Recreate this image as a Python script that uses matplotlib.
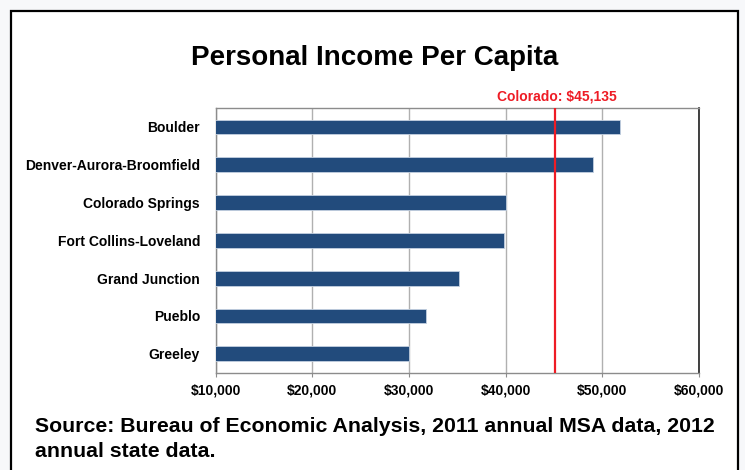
import matplotlib.pyplot as plt
from matplotlib import font_manager
from matplotlib.patches import Rectangle
from matplotlib.ticker import FuncFormatter
import matplotlib.transforms as mtransforms

plt.rcParams['font.family'] = ['Liberation Sans', 'DejaVu Sans']

# data
areas = ["Boulder", "Denver-Aurora-Broomfield", "Colorado Springs",
         "Fort Collins-Loveland", "Grand Junction", "Pueblo", "Greeley"]
income = [51870, 49000, 40050, 39800, 35130, 31720, 29970]
colorado_income = 45135
x_ticks = [10000, 20000, 30000, 40000, 50000, 60000]

title = "Personal Income Per Capita"
source_lines = ["Source: Bureau of Economic Analysis, 2011 annual MSA data, 2012",
                "annual state data."]


def main():
    names = {f.name for f in font_manager.fontManager.ttflist}
    if 'Liberation Sans Narrow' in names:
        label_font = ['Liberation Sans Narrow', 'Liberation Sans']
        label_size = 12
    else:
        label_font = ['Liberation Sans', 'DejaVu Sans']
        label_size = 10

    fig = plt.figure(figsize=(7.45, 4.70), dpi=100)
    fig.patch.set_facecolor('#f7f8fa')

    # white framed panel
    frame = Rectangle((11 / 745, -0.1), (738 - 11) / 745, 1.1 - 11.5 / 470,
                      transform=fig.transFigure, facecolor='white',
                      edgecolor='black', linewidth=1.6, zorder=-5)
    fig.patches.append(frame)

    ax = fig.add_axes([215.7 / 745, 1 - 372.7 / 470, (699 - 215.7) / 745,
                       (372.7 - 108) / 470])
    ax.set_zorder(2)
    ax.set_facecolor('white')

    ypos = list(range(len(areas)))
    ax.barh(ypos, income, height=0.39, left=0, color='#224b7c',
            edgecolor='#c3d0e0', linewidth=0.6, zorder=3)
    ax.set_ylim(len(areas) - 0.5, -0.5)
    ax.set_xlim(x_ticks[0], x_ticks[-1])
    ax.set_xticks(x_ticks)
    ax.xaxis.set_major_formatter(FuncFormatter(lambda v, p: "${:,.0f}".format(v)))
    ax.set_yticks(ypos)
    ax.set_yticklabels(areas)

    ax.grid(axis='x', color='#b0b0b0', linewidth=1.0, zorder=1)
    ax.set_axisbelow(True)

    for side in ['top', 'left', 'bottom']:
        ax.spines[side].set_color('#8c8c8c')
        ax.spines[side].set_linewidth(1.0)
    ax.spines['right'].set_color('#202020')
    ax.spines['right'].set_linewidth(1.2)

    ax.tick_params(axis='x', direction='out', length=3, color='#8c8c8c',
                   pad=5, labelsize=label_size)
    ax.tick_params(axis='y', length=0, pad=11.3, labelsize=label_size)
    for lab in ax.get_xticklabels() + ax.get_yticklabels():
        lab.set_fontweight('bold')
        lab.set_family(label_font)

    # state average line
    ax.axvline(colorado_income, color='#ee1c25', linewidth=1.6, zorder=4)
    trans = mtransforms.blended_transform_factory(ax.transData, ax.transAxes)
    ax.annotate("Colorado: ${:,}".format(colorado_income),
                xy=(colorado_income, 1.0), xycoords=trans,
                xytext=(1, 5.4), textcoords='offset points',
                ha='center', va='baseline', color='#ee1c25',
                fontsize=label_size, fontweight='bold', family=label_font,
                annotation_clip=False)

    fig.text(375 / 745, 1 - 65 / 470, title, ha='center', va='baseline',
             fontsize=20, fontweight='bold')
    for i, line in enumerate(source_lines):
        fig.text(35 / 745, 1 - (432 + 25 * i) / 470, line, ha='left',
                 va='baseline', fontsize=15.3, fontweight='bold')

    fig.savefig('out.png', dpi=100, facecolor=fig.get_facecolor())
    plt.close(fig)


if __name__ == '__main__':
    main()
